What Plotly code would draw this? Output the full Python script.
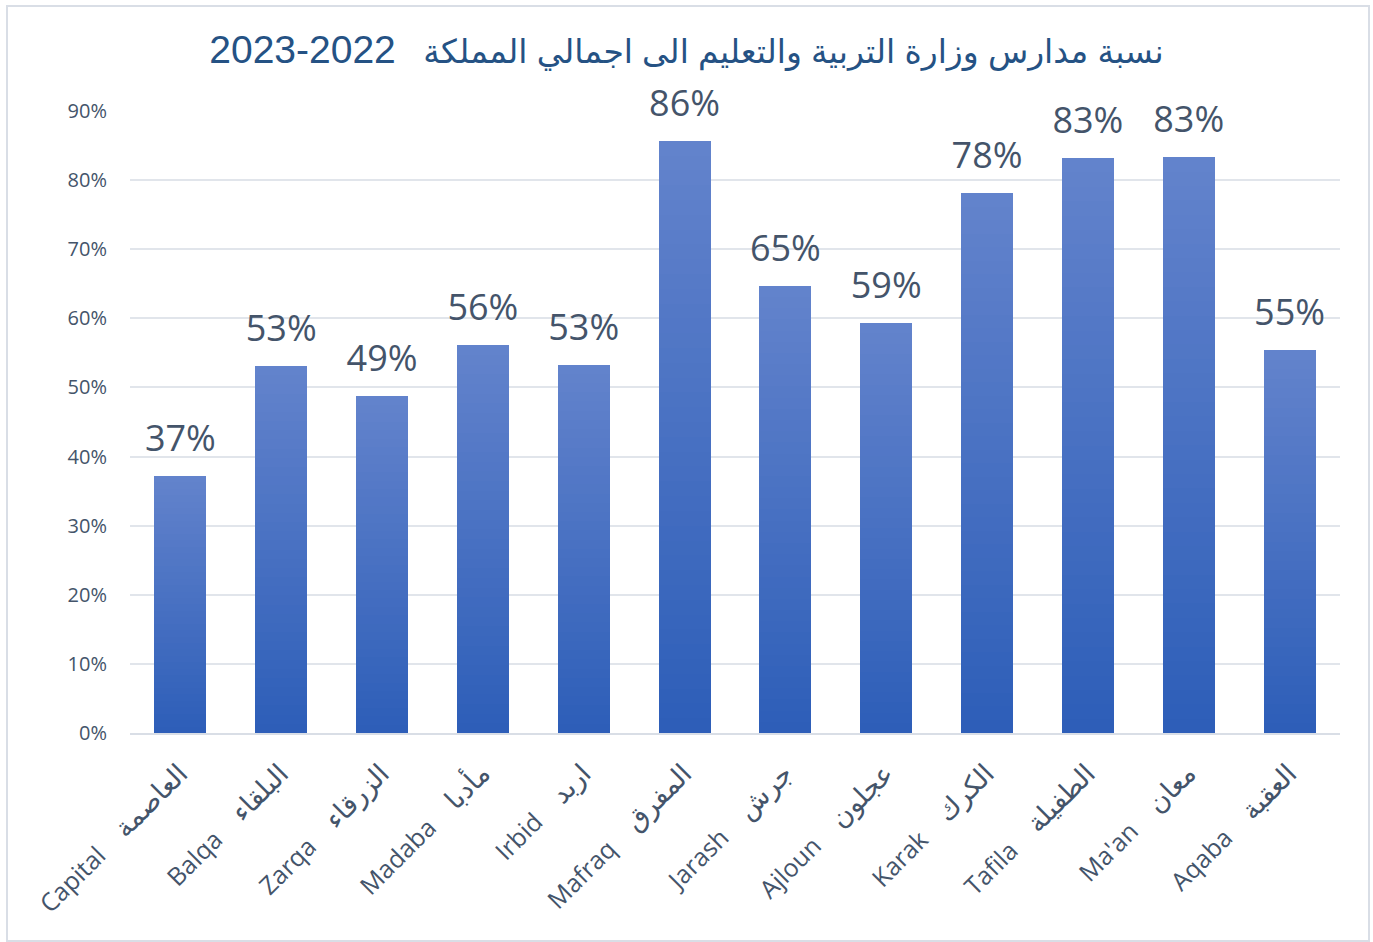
import plotly.graph_objects as go

# ---- data ----
regions_en = ["Capital", "Balqa", "Zarqa", "Madaba", "Irbid", "Mafraq",
              "Jarash", "Ajloun", "Karak", "Tafila", "Ma'an", "Aqaba"]
regions_ar = ["العاصمة", "البلقاء", "الزرقاء", "مأدبا", "اربد", "المفرق",
              "جرش", "عجلون", "الكرك", "الطفيلة", "معان", "العقبة"]
share = [0.372, 0.531, 0.487, 0.561, 0.533, 0.857,
         0.647, 0.593, 0.781, 0.832, 0.833, 0.554]
y_ticks = [0, 0.1, 0.2, 0.3, 0.4, 0.5, 0.6, 0.7, 0.8, 0.9]
title_years = "2023-2022"
title_ar = "نسبة مدارس وزارة التربية والتعليم الى اجمالي المملكة"

# ---- styling ----
W, H = 1373, 942
ML, MR, MT, MB = 130, 33, 111, 209
TEXT = "#44546A"
GRID = "#E1E5EB"
TOP_RGB = (99, 131, 204)
BOT_RGB = (45, 94, 184)
N_SEG = 40

sp = "\u00a0" * 4
labels = [f"{e}{sp}<span style='font-size:27px'>{a}</span>"
          for e, a in zip(regions_en, regions_ar)]

fig = go.Figure()
for i in range(N_SEG):
    t = (i + 0.5) / N_SEG
    c = tuple(round(BOT_RGB[k] + (TOP_RGB[k] - BOT_RGB[k]) * t) for k in range(3))
    fig.add_trace(go.Bar(
        x=labels, y=[v / N_SEG for v in share],
        marker=dict(color=f"rgb{c}", line=dict(width=0)),
        showlegend=False, hoverinfo="skip",
    ))

fig.add_trace(go.Scatter(
    x=labels, y=share, mode="markers+text",
    marker=dict(size=24, opacity=0),
    text=[f"{v:.0%}" for v in share], textposition="top center",
    textfont=dict(size=36, color=TEXT, family="Open Sans, DejaVu Sans"),
    showlegend=False, hoverinfo="skip", cliponaxis=False,
))

# border around chart area
pw = W - ML - MR
ph = H - MT - MB
fig.add_shape(type="rect", xref="paper", yref="paper",
              x0=(7 - ML) / pw, x1=(1369 - ML) / pw,
              y0=-(MB - 1) / ph, y1=(H - MB - 6) / ph,
              line=dict(color="#D9DEE6", width=2), layer="below")

title_text = (f"<span style='font-size:39px'>{title_years}</span>"
              f"\u00a0\u00a0 {title_ar}")

fig.update_layout(
    width=W, height=H,
    margin=dict(l=ML, r=MR, t=MT, b=MB),
    paper_bgcolor="white", plot_bgcolor="white",
    barmode="stack", bargap=0.485,
    title=dict(text=title_text, x=0.5, xref="container", xanchor="center",
               y=1 - 51 / H, yanchor="middle",
               font=dict(size=33, color="#255284", family="Liberation Sans, DejaVu Sans")),
    font=dict(family="Open Sans, DejaVu Sans", color=TEXT),
)
fig.update_yaxes(range=[0, 0.9], tickvals=y_ticks, tickformat=".0%",
                 showgrid=True, gridcolor=GRID, gridwidth=2,
                 zeroline=False, showline=False,
                 tickfont=dict(size=20, color=TEXT), ticklabelstandoff=22)
fig.update_xaxes(range=[-0.5, len(labels) - 0.5],
                 tickangle=-45, tickfont=dict(size=25, color=TEXT),
                 showline=True, linecolor="#D9DEE6", linewidth=2,
                 ticks="", ticklabelstandoff=14)

fig.write_html("out.html", config={"displayModeBar": False},
               post_script="document.body.style.margin='0';")
